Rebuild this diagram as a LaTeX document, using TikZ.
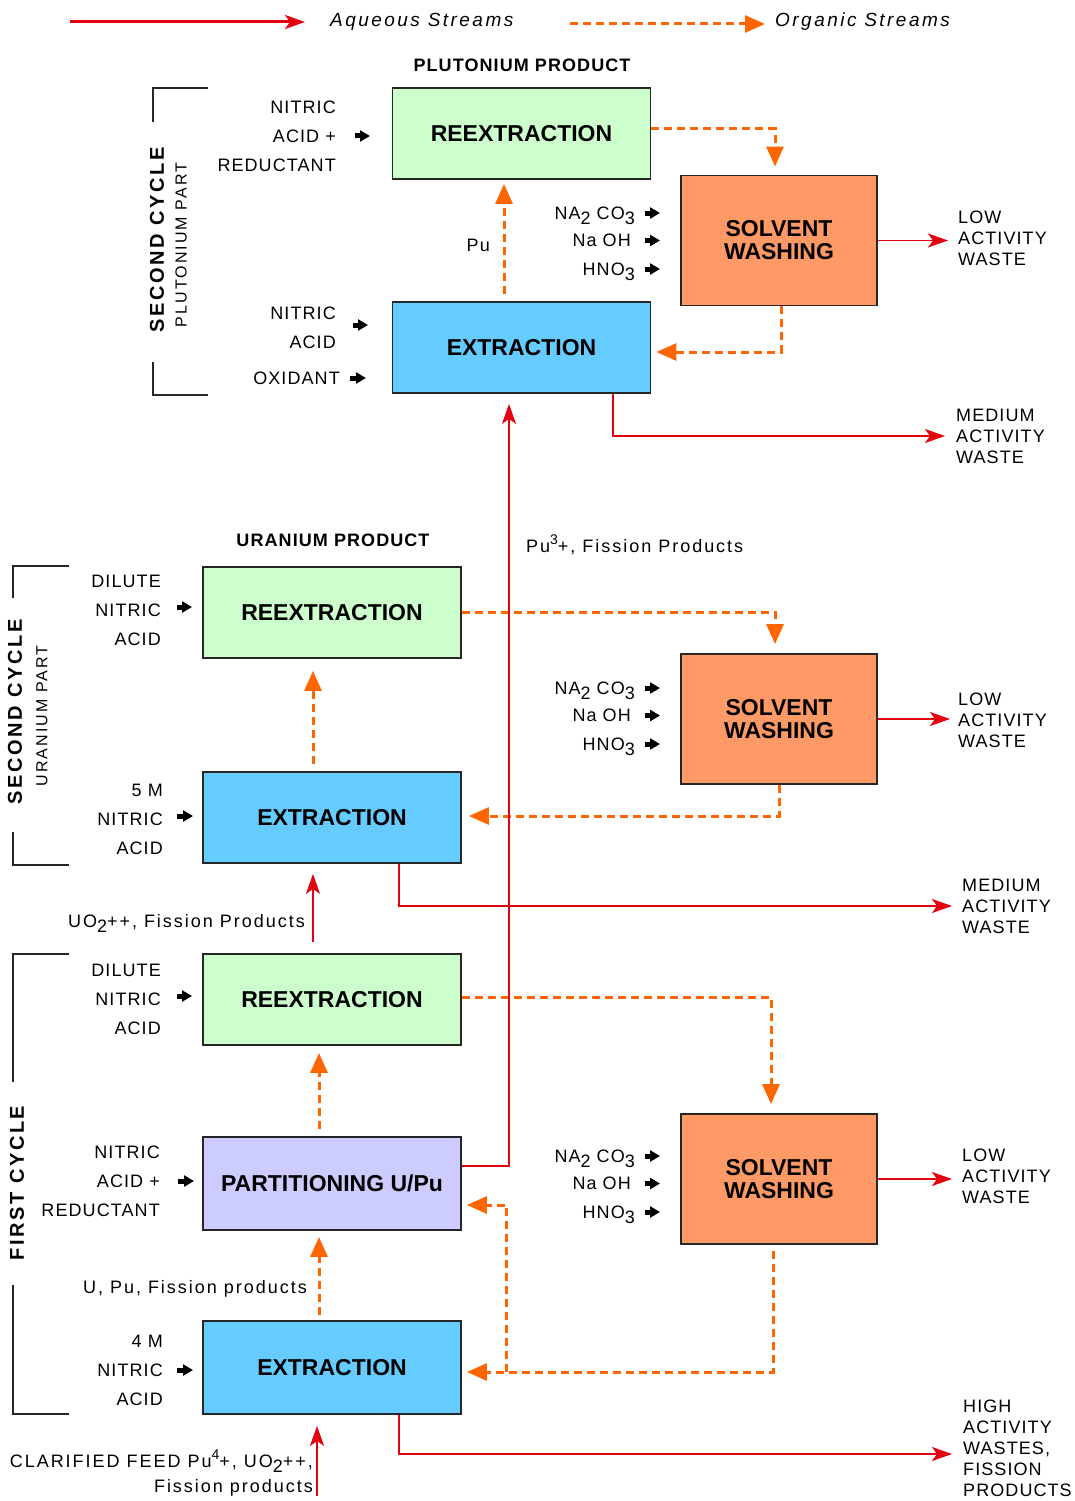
\documentclass[tikz,border=0pt]{standalone}
\usepackage{fontspec}
\setmainfont{Liberation Sans}
\newfontfamily\lblfont[LetterSpace=6]{Liberation Sans}
\newfontfamily\notefont[LetterSpace=11]{Liberation Sans}
\newfontfamily\widefont[LetterSpace=13]{Liberation Sans}
\usetikzlibrary{arrows.meta}
\definecolor{aqred}{HTML}{E3000F}
\definecolor{orgorange}{HTML}{FF6600}
\definecolor{regreen}{HTML}{CCFFCC}
\definecolor{exblue}{HTML}{66CCFF}
\definecolor{partviolet}{HTML}{CCCCFF}
\definecolor{washorange}{HTML}{FF9966}
\newcommand{\subd}[1]{\raisebox{-0.3em}{#1}}
\newcommand{\supd}[1]{\raisebox{0.45em}{\fontsize{14}{14}\selectfont #1}}

\begin{document}
\begin{tikzpicture}[x=1pt,y=-1pt,
    box/.style={draw=black!85,line width=1.8pt,minimum width=258pt,minimum height=91pt,
        inner sep=0pt,align=center,font=\fontsize{23}{23}\selectfont\bfseries},
    washbox/.style={box,fill=washorange,minimum width=196pt,minimum height=130pt},
    lbl/.style={font=\lblfont\fontsize{18}{29}\selectfont,inner sep=0pt,align=right},
    note/.style={font=\notefont\fontsize{18}{25}\selectfont,inner sep=0pt,align=right,text depth=0pt},
    waste/.style={font=\lblfont\fontsize{18}{21}\selectfont,inner sep=0pt,align=left,anchor=west},
    title/.style={font=\lblfont\bfseries\fontsize{18}{18}\selectfont,inner sep=0pt},
    aq/.style={draw=aqred,line width=1.8pt,-{Stealth[length=20pt,width=14pt,inset=5pt]}},
    org/.style={draw=orgorange,line width=3pt,dash pattern=on 8pt off 5pt,-{Triangle[length=20pt,width=17pt]}},
    inlet/.style={line width=5pt,-{Triangle[length=10pt,width=11pt]}},
    bracket/.style={draw=black!85,line width=1.5pt}]
    \useasboundingbox[fill=white] (0,0) rectangle (1074,1501);

    % legend
    \coordinate (aqfrom) at (70,22);
    \node[font=\widefont\itshape\fontsize{19}{19}\selectfont,inner sep=0pt,anchor=west] (aqtxt) at (330,22) {Aqueous Streams};
    \draw[aq,line width=3pt,shorten >=25pt] (aqfrom) -- (aqtxt.west);
    \coordinate (orgfrom) at (570,24);
    \node[font=\widefont\itshape\fontsize{19}{19}\selectfont,inner sep=0pt,anchor=west] (orgtxt) at (775,22) {Organic Streams};
    \draw[org,shorten >=10pt] (orgfrom) -- (orgfrom -| orgtxt.west);

    % second cycle, plutonium part
    \node[title] (ptitle) at (522,65) {PLUTONIUM PRODUCT};
    \node[box,fill=regreen] (pre) at (521.5,133.5) {REEXTRACTION};
    \node[box,fill=exblue] (pex) at (521.5,347.5) {EXTRACTION};
    \node[washbox] (psw) at (779,240.5) {SOLVENT\\WASHING};

    \node[lbl,anchor=east] (pin1) at (336,136) {NITRIC\\ACID +\\REDUCTANT};
    \draw[inlet] ([xshift=19pt]pin1.east) -- ++(15,0);
    \node[lbl,anchor=east] (pin2) at (336,328) {NITRIC\\ACID};
    \draw[inlet] ([xshift=17pt,yshift=3pt]pin2.east) -- ++(15,0);
    \node[lbl,anchor=east] (pin3) at (340,378) {OXIDANT};
    \draw[inlet] ([xshift=10pt]pin3.east) -- ++(16,0);

    \draw[org,shorten >=8pt] ([yshift=4.5pt]pre.east) -| ([xshift=-4pt]psw.north);
    \draw[org,shorten >=5pt] ([xshift=2pt]psw.south) |- ([yshift=-4.5pt]pex.east);
    \draw[org,shorten <=7pt,shorten >=4pt] ([xshift=-17.5pt]pex.north) -- ([xshift=-17.5pt]pre.south);
    \node[lbl,anchor=east] (putxt) at (490,245) {Pu};

    \node[waste] (plw) at (958,238) {LOW\\ACTIVITY\\WASTE};
    \draw[aq,shorten >=10pt] (psw.east) -- (psw.east -| plw.west);
    \node[waste] (pmw) at (956,436) {MEDIUM\\ACTIVITY\\WASTE};
    \draw[aq,shorten >=11pt] ([xshift=91.5pt]pex.south) |- (pmw.west);

    \draw[bracket] (208,88) -- (153,88) -- (153,122);
    \draw[bracket] (153,362) -- (153,395) -- (208,395);
    \node[rotate=90,font=\widefont\bfseries\fontsize{20}{20}\selectfont,inner sep=0pt] (pcyc) at (157,240) {SECOND CYCLE};
    \node[rotate=90,font=\widefont\fontsize{16}{16}\selectfont,inner sep=0pt] (ppart) at (181,245) {PLUTONIUM PART};

    % second cycle, uranium part
    \node[title] (utitle) at (333,540) {URANIUM PRODUCT};
    \node[box,fill=regreen] (ure) at (332,612.5) {REEXTRACTION};
    \node[box,fill=exblue] (uex) at (332,817.5) {EXTRACTION};
    \node[washbox] (usw) at (779,719) {SOLVENT\\WASHING};

    \node[lbl,anchor=east] (uin1) at (161,610) {DILUTE\\NITRIC\\ACID};
    \draw[inlet] ([xshift=16pt,yshift=3pt]uin1.east) -- ++(15,0);
    \node[lbl,anchor=east] (uin2) at (163,819) {5 M\\NITRIC\\ACID};
    \draw[inlet] ([xshift=14pt,yshift=3pt]uin2.east) -- ++(16,0);

    \draw[org,shorten >=9pt] (ure.east) -| ([xshift=-4pt]usw.north);
    \draw[org,shorten >=7pt] (usw.south) |- ([yshift=1.5pt]uex.east);
    \draw[org,shorten <=7pt,shorten >=12pt] ([xshift=-19pt]uex.north) -- ([xshift=-19pt]ure.south);

    \node[waste] (ulw) at (958,720) {LOW\\ACTIVITY\\WASTE};
    \draw[aq,shorten >=8pt] (usw.east) -- (usw.east -| ulw.west);
    \node[waste] (umw) at (962,906) {MEDIUM\\ACTIVITY\\WASTE};
    \draw[aq,shorten >=10pt] ([xshift=67pt]uex.south) |- (umw.west);

    \draw[bracket] (69,566) -- (13,566) -- (13,598);
    \draw[bracket] (13,832) -- (13,865) -- (69,865);
    \node[rotate=90,font=\widefont\bfseries\fontsize{20}{20}\selectfont,inner sep=0pt] (ucyc) at (15,712) {SECOND CYCLE};
    \node[rotate=90,font=\widefont\fontsize{16}{16}\selectfont,inner sep=0pt] (upart) at (42,716) {URANIUM PART};

    % first cycle
    \node[box,fill=regreen] (fre) at (332,999.5) {REEXTRACTION};
    \node[box,fill=partviolet,minimum height=93pt] (fpa) at (332,1183.5) {PARTITIONING U/Pu};
    \node[box,fill=exblue,minimum height=93pt] (fex) at (332,1367.5) {EXTRACTION};
    \node[washbox] (fsw) at (779,1179) {SOLVENT\\WASHING};

    \node[lbl,anchor=east] (fin1) at (161,999) {DILUTE\\NITRIC\\ACID};
    \draw[inlet] ([xshift=16pt,yshift=3pt]fin1.east) -- ++(15,0);
    \node[lbl,anchor=east] (fin2) at (160,1181) {NITRIC\\ACID +\\REDUCTANT};
    \draw[inlet] ([xshift=18pt]fin2.east) -- ++(16,0);
    \node[lbl,anchor=east] (fin3) at (163,1370) {4 M\\NITRIC\\ACID};
    \draw[inlet] ([xshift=14pt]fin3.east) -- ++(16,0);

    \draw[org,shorten >=9pt] ([yshift=2.5pt]fre.east) -| ([xshift=-8pt]fsw.north);
    \draw[org,shorten <=6pt,shorten >=5pt] ([xshift=-6pt]fsw.south) |- ([yshift=-4.5pt]fex.east);
    \coordinate (fork) at ([xshift=45pt,yshift=-4.5pt]fex.east);
    \draw[org,shorten >=5pt] (fork) |- ([yshift=-21.5pt]fpa.east);
    \draw[org,shorten <=7pt,shorten >=7pt] ([xshift=-13pt]fpa.north) -- ([xshift=-13pt]fre.south);
    \draw[org,shorten <=5pt,shorten >=6pt] ([xshift=-13pt]fex.north) -- ([xshift=-13pt]fpa.south);
    \node[note,anchor=east] (futxt) at (307,1287) {U, Pu, Fission products};

    \node[waste] (flw) at (962,1176) {LOW\\ACTIVITY\\WASTE};
    \draw[aq,shorten >=10pt] (fsw.east) -- (fsw.east -| flw.west);
    \node[waste] (fhw) at (963,1448) {HIGH\\ACTIVITY\\WASTES,\\FISSION\\PRODUCTS};
    \draw[aq,shorten >=11pt] ([xshift=67pt]fex.south) |- ([yshift=-6pt]fhw.west);

    \draw[bracket] (69,954) -- (13,954) -- (13,1082);
    \draw[bracket] (13,1285) -- (13,1414) -- (69,1414);
    \node[rotate=90,font=\widefont\bfseries\fontsize{20}{20}\selectfont,inner sep=0pt] (fcyc) at (17,1183) {FIRST CYCLE};

    % washing reagents
    \foreach \w/\y in {p/213,u/688,f/1156}{
        \node[lbl,anchor=east,text depth=0pt] (\w-na) at (635,\y) {NA\subd{2} CO\subd{3}};
        \draw[inlet] ([xshift=10pt]\w-na.east) -- ++(15,0);
        \node[lbl,anchor=east,text depth=0pt] (\w-oh) at (631,\y+27.5) {Na OH};
        \draw[inlet] ([xshift=14pt]\w-oh.east) -- ++(15,0);
        \node[lbl,anchor=east,text depth=0pt] (\w-hn) at (635,\y+56) {HNO\subd{3}};
        \draw[inlet] ([xshift=10pt]\w-hn.east) -- ++(15,0);
    }

    % aqueous streams between the cycles
    \draw[aq,shorten >=10pt] ([yshift=17.5pt]fpa.east) -| ([xshift=-12.5pt]pex.south);
    \node[note,anchor=west] (pu3txt) at (526,544) {Pu\supd{3}+, Fission Products};
    \draw[aq,shorten <=11pt,shorten >=10pt] ([xshift=-19pt]fre.north) -- ([xshift=-19pt]uex.south);
    \node[note,anchor=east] (uo2txt) at (305,921) {UO\subd{2}++, Fission Products};
    \coordinate (feed) at (317,1496);
    \draw[aq,shorten >=11pt] (feed) -- ([xshift=-15pt]fex.south);
    \node[note,anchor=east] (feedtxt) at (313,1471)
        {CLARIFIED FEED Pu\supd{4}+, UO\subd{2}++,\\Fission products};
\end{tikzpicture}
\end{document}
